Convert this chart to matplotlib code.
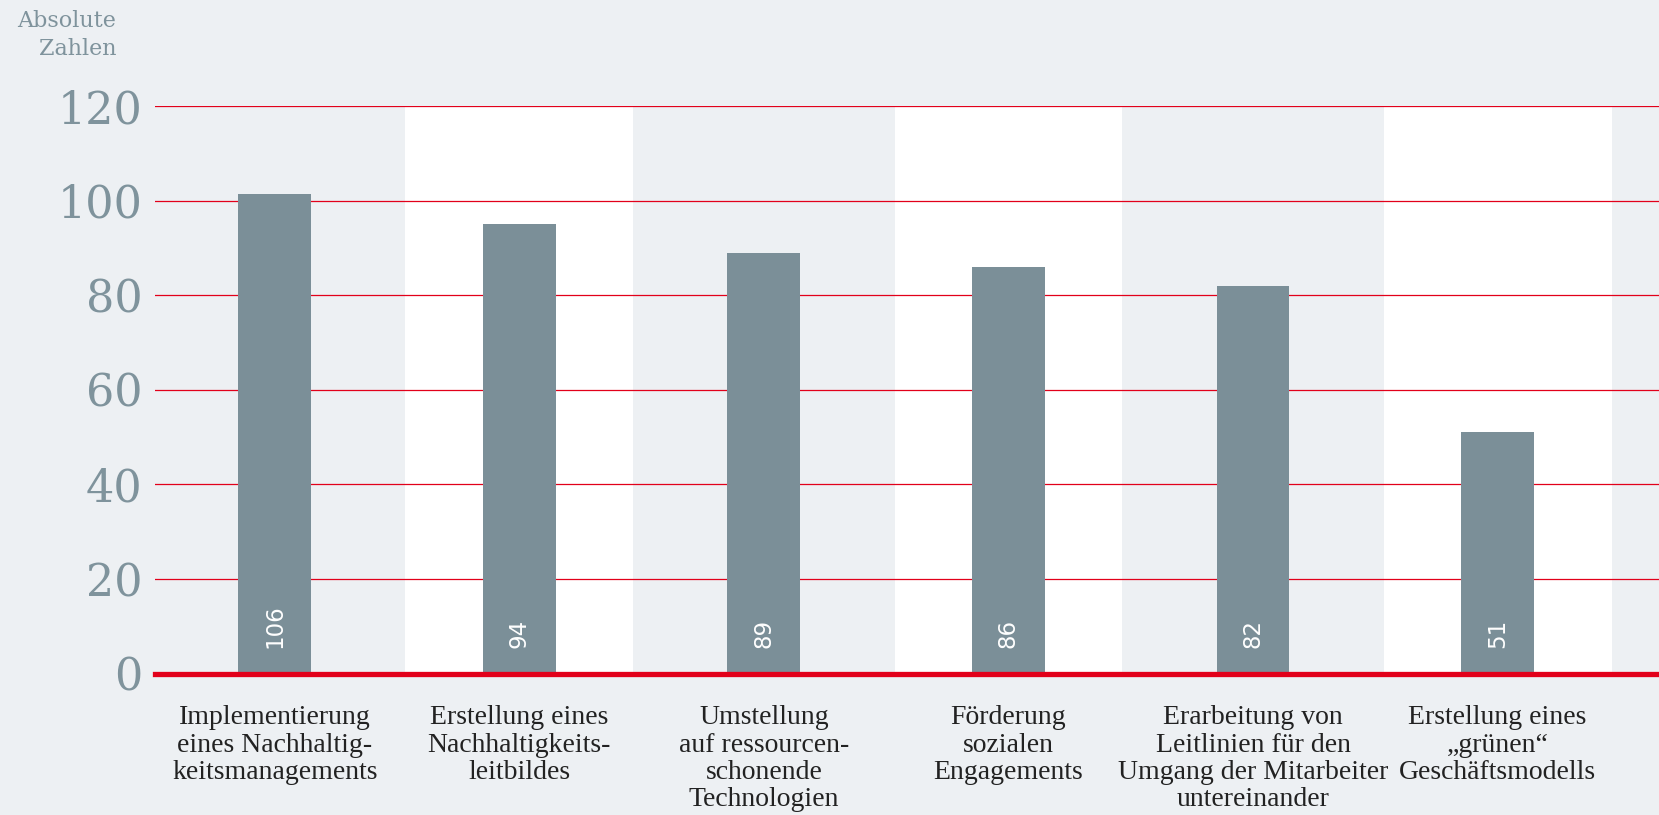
import numpy as np
import matplotlib.pyplot as plt

# Daten
kategorien = [
    "Implementierung\neines Nachhaltig-\nkeitsmanagements",
    "Erstellung eines\nNachhaltigkeits-\nleitbildes",
    "Umstellung\nauf ressourcen-\nschonende\nTechnologien",
    "Förderung\nsozialen\nEngagements",
    "Erarbeitung von\nLeitlinien für den\nUmgang der Mitarbeiter\nuntereinander",
    "Erstellung eines\n„grünen“\nGeschäftsmodells",
]
werte = [106, 94, 89, 86, 82, 51]            # beschriftete Werte
balken_hoehe = [101.5, 95, 89, 86, 82, 51]   # gezeichnete Balkenhöhe
y_ticks = [0, 20, 40, 60, 80, 100, 120]

hintergrund = '#edf0f3'
balken_farbe = '#7b8f98'
rot = '#e2001a'
grau_text = '#7f939c'

fig = plt.figure(figsize=(16.59, 8.15), dpi=100, facecolor=hintergrund)
ax = fig.add_axes([0.0934, 0.1736, 0.9066, 0.6963])
ax.set_facecolor(hintergrund)

x = np.arange(len(kategorien))

# weisse Streifen hinter jeder zweiten Kategorie
for i in x:
    if i % 2 == 1:
        ax.axvspan(i - 0.466, i + 0.466, color='white', zorder=0, lw=0)

# Gitterlinien
for yt in y_ticks[1:]:
    ax.axhline(yt, color=rot, lw=0.9, zorder=1)

ax.bar(x, balken_hoehe, width=0.298, color=balken_farbe, zorder=2)
ax.axhline(0, color=rot, lw=3.8, zorder=3, clip_on=False)

for i, w in enumerate(werte):
    ax.text(i, 5.3, str(w), rotation=90, ha='center', va='bottom',
            color='white', fontsize=16.5, family='DejaVu Sans', zorder=4)

ax.set_xlim(-0.49, 5.66)
ax.set_ylim(0, 120)
ax.set_yticks(y_ticks)
ax.set_yticklabels([str(v) for v in y_ticks], family='DejaVu Serif',
                   fontsize=32, color=grau_text)
ax.set_xticks(x)
ax.set_xticklabels(kategorien, family='Liberation Serif', fontsize=20,
                   color='#222222', linespacing=1.12, va='top')
ax.tick_params(axis='y', length=0, pad=9)
ax.tick_params(axis='x', length=0, pad=23)
for s in ax.spines.values():
    s.set_visible(False)

fig.text(116 / 1659, 1 - 35 / 815, "Absolute\nZahlen", ha='right', va='center',
         family='DejaVu Serif', fontsize=16, color=grau_text, linespacing=1.35)

fig.savefig('out.png', dpi=100, facecolor=hintergrund)
